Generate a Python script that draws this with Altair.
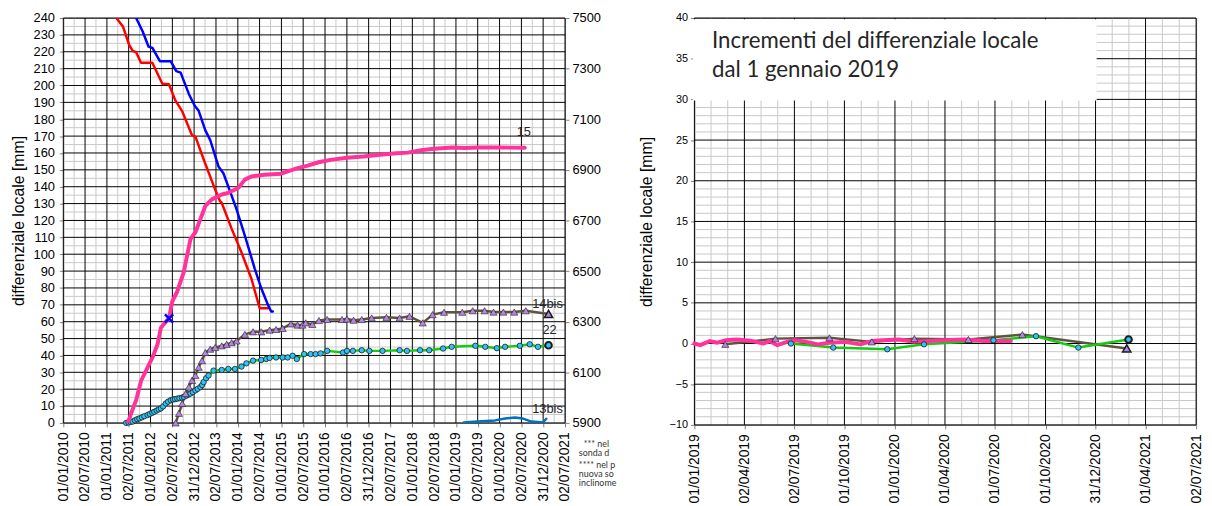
import altair as alt
import pandas as pd

# ---------------- axis labels / ticks ----------------
left_tick_labels = ["01/01/2010", "02/07/2010", "01/01/2011", "02/07/2011", "01/01/2012",
                    "02/07/2012", "31/12/2012", "02/07/2013", "01/01/2014", "02/07/2014",
                    "01/01/2015", "02/07/2015", "01/01/2016", "02/07/2016", "31/12/2016",
                    "02/07/2017", "01/01/2018", "02/07/2018", "01/01/2019", "02/07/2019",
                    "01/01/2020", "02/07/2020", "31/12/2020", "02/07/2021"]
right_tick_labels = ["01/01/2019", "02/04/2019", "02/07/2019", "01/10/2019", "01/01/2020",
                     "01/04/2020", "01/07/2020", "01/10/2020", "31/12/2020", "01/04/2021",
                     "02/07/2021"]
left_y_ticks = list(range(0, 241, 10))
left_y_minor = list(range(5, 240, 10))
right_axis_ticks = list(range(5900, 7501, 200))
inc_y_ticks = list(range(-10, 41, 5))
inc_y_minor = [v for v in range(-10, 41) if v % 5 != 0]

# ---------------- left chart series (x in decimal years) ----------------
red_year = [2011.216, 2011.366, 2011.51, 2011.59, 2011.67, 2011.78, 2012.04, 2012.27, 2012.42,
            2012.57, 2012.72, 2012.95, 2013.03, 2013.22, 2013.48, 2013.59, 2013.63, 2013.86,
            2014.08, 2014.31, 2014.50, 2014.69]
red_val = [240, 235, 224, 220.5, 219.7, 213.5, 213.5, 201, 200.8, 191, 185, 170.5, 169.5, 156,
           138.3, 131.5, 130.5, 115, 101.3, 85.6, 68, 68]

blue_year = [2011.669, 2011.819, 2011.955, 2012.045, 2012.213, 2012.462, 2012.589, 2012.689,
             2012.877, 2013.012, 2013.103, 2013.255, 2013.368, 2013.556, 2013.669, 2013.821,
             2013.971, 2014.161, 2014.387, 2014.537, 2014.689, 2014.763, 2014.802]
blue_val = [240, 232, 223, 222.2, 214.4, 214.4, 208.5, 207.6, 195, 188, 185, 173.4, 167.6, 152,
            148, 137.4, 126.6, 111, 91.5, 79.8, 70, 66.1, 66]

pink_year = [2011.479, 2011.556, 2011.669, 2011.783, 2011.896, 2012.045, 2012.159, 2012.236,
             2012.424, 2012.498, 2012.612, 2012.763, 2012.838, 2012.915, 2013.028, 2013.142,
             2013.255, 2013.404, 2013.631, 2013.783, 2014.009, 2014.161, 2014.310, 2014.614,
             2014.990, 2015.368, 2015.6, 2015.85, 2016.122, 2016.5, 2016.879, 2017.2, 2017.633,
             2017.9, 2018.238, 2018.5, 2018.918, 2019.2, 2019.520, 2020.0, 2020.577]
pink_val = [0, 5.7, 13.5, 25, 31, 38.8, 46.6, 56.4, 62.2, 72, 77.9, 89.6, 99.3, 109, 113, 120.8,
            128.6, 132.5, 135.4, 136.4, 139.3, 144.2, 146.1, 147.1, 147.7, 151, 152.5, 154.5,
            155.9, 157.2, 157.9, 158.8, 159.8, 160.2, 161.8, 162.5, 163.3, 163.0, 163.3, 163.2,
            163.1]

bis14_year = [2012.575, 2012.650, 2012.725, 2012.802, 2012.877, 2012.951, 2013.028, 2013.103,
              2013.178, 2013.255, 2013.368, 2013.481, 2013.631, 2013.744, 2013.857, 2013.971,
              2014.161, 2014.349, 2014.537, 2014.727, 2014.877, 2015.028, 2015.216, 2015.368,
              2015.481, 2015.556, 2015.708, 2015.860, 2016.048, 2016.387, 2016.501, 2016.652,
              2016.840, 2017.067, 2017.406, 2017.708, 2017.934, 2018.238, 2018.464, 2018.727,
              2019.144, 2019.384, 2019.656, 2019.860, 2020.086, 2020.335, 2020.600, 2021.121]
bis14_val = [0, 5.7, 11.5, 17.4, 21.3, 25.2, 28.1, 33, 36.9, 41.7, 43.7, 44.7, 45.7, 46.6, 47.6,
             48.6, 52.5, 54, 54, 55, 55.4, 56, 58.7, 58, 58, 59.3, 58.4, 60.7, 61.3, 61.3, 61.6,
             60.9, 61.3, 62.2, 62.6, 62.2, 63.2, 59.3, 64.2, 65.6, 65.6, 66.5, 66.5, 65.7, 65.7,
             65.7, 66.5, 64.6]

s22_year = [2011.443, 2011.495, 2011.540, 2011.592, 2011.642, 2011.694, 2011.744, 2011.801,
            2011.857, 2011.932, 2011.982, 2012.039, 2012.084, 2012.140, 2012.186, 2012.236,
            2012.288, 2012.349, 2012.401, 2012.462, 2012.514, 2012.560, 2012.612, 2012.661,
            2012.718, 2012.763, 2012.820, 2012.865, 2012.915, 2012.967, 2013.028, 2013.080,
            2013.142, 2013.182, 2013.216, 2013.273, 2013.330, 2013.443, 2013.631, 2013.783,
            2013.934, 2014.084, 2014.197, 2014.349, 2014.537, 2014.650, 2014.727, 2014.877,
            2015.028, 2015.141, 2015.255, 2015.352, 2015.520, 2015.669, 2015.783, 2015.896,
            2016.048, 2016.410, 2016.501, 2016.637, 2016.840, 2017.015, 2017.316, 2017.708,
            2017.876, 2018.177, 2018.387, 2018.704, 2018.901, 2019.445, 2019.671, 2019.937,
            2020.125, 2020.464, 2020.691, 2020.879, 2021.121]
s22_val = [0, 0.3, 0.6, 0.8, 1.5, 2.2, 2.7, 3.3, 4.0, 4.7, 5.3, 6.0, 6.6, 7.3, 8.0, 8.6, 9.8,
           11.5, 12.6, 13.5, 13.9, 14.1, 14.4, 14.7, 15.0, 15.4, 16.2, 16.8, 17.4, 18.3, 19.3,
           20.2, 21.3, 22.5, 24.2, 26.5, 28.1, 31, 31.4, 32, 32, 33.4, 35.3, 36.9, 37.3, 37.9,
           38.5, 38.8, 38.8, 38.8, 39.8, 37.9, 40.8, 40.8, 40.8, 41.2, 42.7, 41.7, 42.7, 42.7,
           43.1, 42.7, 42.7, 43.1, 42.7, 43.1, 43.1, 44.1, 45.1, 45.7, 45.1, 44.3, 45.1, 45.7,
           46.6, 45.1, 46.0]

bis13_year = [2019.180, 2019.400, 2019.597, 2019.898, 2020.125, 2020.351, 2020.539, 2020.729,
              2020.992, 2021.069]
bis13_val = [0.2, 0.7, 1.0, 1.5, 2.6, 3.2, 2.6, 0.8, 0.2, 2.5]

cross_year = [2012.424]
cross_val = [61.9]

label_text = ["15", "14bis", "22", "13bis"]
label_year = [2020.555, 2021.098, 2021.144, 2021.098]
label_val = [172.7, 70.2, 55.0, 8.2]

note_lines = ["*** nel", "sonda d", "**** nel p", "nuova so", "inclinome"]

# ---------------- right chart series ----------------
pink_r_year = [2019.000, 2019.029, 2019.077, 2019.115, 2019.154, 2019.212, 2019.288, 2019.346,
               2019.375, 2019.413, 2019.462, 2019.5, 2019.558, 2019.615, 2019.673, 2019.75,
               2019.827, 2019.884, 2019.942, 2020.019, 2020.096, 2020.173, 2020.25, 2020.346,
               2020.442, 2020.519, 2020.577]
pink_r_val = [0, -0.2, 0.3, 0.1, 0.4, 0.5, 0.3, 0, 0.3, -0.2, 0.2, 0.4, 0.2, -0.1, 0.1, 0.2,
              -0.1, 0.3, 0.4, 0.5, 0.2, 0.3, 0.4, 0.5, 0.3, 0.3, 0.3]
bis14_r_year = [2019.154, 2019.404, 2019.673, 2019.884, 2020.096, 2020.365, 2020.634, 2021.154]
bis14_r_val = [-0.1, 0.6, 0.7, 0.2, 0.6, 0.5, 1.1, -0.6]
s22_r_year = [2019.481, 2019.692, 2019.961, 2020.144, 2020.490, 2020.702, 2020.913, 2021.163]
s22_r_val = [0, -0.5, -0.7, -0.1, 0.4, 0.9, -0.5, 0.5]

title_lines = ["Incrementi del differenziale locale", "dal 1 gennaio 2019"]

# ---------------- helpers ----------------
FONT = "Liberation Sans"
MAJOR = "#000000"
MINOR = "#c8c8c8"
TRI_FILL = "#b685e0"
DOT_FILL = "#2ec4f5"


def to_days(years, base):
    return [(y - base) * 365.25 for y in years]


def tick_days(labels, base):
    d = pd.to_datetime(labels, format="%d/%m/%Y") - pd.Timestamp(base)
    return [float(v) for v in d.days]


def xy(years, vals, base):
    return pd.DataFrame({"x": to_days(years, base), "y": vals})


def midpoints(vals, n):
    out = []
    for a, b in zip(vals[:-1], vals[1:]):
        for k in range(1, n):
            out.append(a + (b - a) * k / n)
    return out


# ================= LEFT CHART =================
LX = alt.Scale(domain=[0, 4200], nice=False, zero=False)
LY = alt.Scale(domain=[0, 240], nice=False, zero=False)
lx_ticks = tick_days(left_tick_labels, "2010-01-01")
lx_minor = midpoints(lx_ticks, 2)

left_x_axis = alt.Axis(values=lx_ticks, title=None, grid=False, domain=False,
                       labelExpr="utcFormat(utc(2010,0,1) + datum.value*86400000, '%d/%m/%Y')",
                       labelAngle=270, labelAlign="right", labelBaseline="middle",
                       labelFontSize=14, labelOverlap=False, tickSize=4, labelPadding=5,
                       tickColor="#808080")
left_y_axis = alt.Axis(values=left_y_ticks, title="differenziale locale [mm]", grid=False,
                       domain=False, labelFontSize=13, titleFontSize=16, tickSize=4,
                       labelPadding=5, titlePadding=7, labelOverlap=False, tickColor="#808080")


def LXe():
    return alt.X("x:Q", scale=LX, axis=left_x_axis)


def LYe():
    return alt.Y("y:Q", scale=LY, axis=left_y_axis)


l_layers = [
    alt.Chart(pd.DataFrame({"x": lx_minor})).mark_rule(color=MINOR, strokeWidth=1).encode(x=LXe()),
    alt.Chart(pd.DataFrame({"y": left_y_minor})).mark_rule(color=MINOR, strokeWidth=1).encode(y=LYe()),
    alt.Chart(pd.DataFrame({"x": lx_ticks})).mark_rule(color=MAJOR, strokeWidth=1).encode(x=LXe()),
    alt.Chart(pd.DataFrame({"y": left_y_ticks})).mark_rule(color=MAJOR, strokeWidth=1).encode(y=LYe()),
]


def lline(years, vals, color, width):
    return alt.Chart(xy(years, vals, 2010.0)).mark_line(
        color=color, strokeWidth=width, strokeJoin="round", strokeCap="round", clip=True
    ).encode(x=LXe(), y=LYe(), order="x:Q")


def lpoints(years, vals, shape, fill, size, sw):
    return alt.Chart(xy(years, vals, 2010.0)).mark_point(
        shape=shape, filled=True, fill=fill, stroke="#1c1c1c", strokeWidth=sw, size=size, opacity=1
    ).encode(x=LXe(), y=LYe())


l_layers += [
    lline(red_year, red_val, "#ff0000", 2.5),
    lline(blue_year, blue_val, "#0000ff", 2.5),
    lline(bis13_year, bis13_val, "#0070c0", 2.5),
    lline(s22_year, s22_val, "#11cc11", 2.5),
    lline(bis14_year, bis14_val, "#5e5541", 2.5),
    lpoints(s22_year[:-1], s22_val[:-1], "circle", DOT_FILL, 30, 0.8),
    lpoints(bis14_year[:-1], bis14_val[:-1], "triangle-up", TRI_FILL, 52, 0.6),
    lpoints(s22_year[-1:], s22_val[-1:], "circle", DOT_FILL, 45, 2),
    lpoints(bis14_year[-1:], bis14_val[-1:], "triangle-up", TRI_FILL, 70, 1.5),
    lline(pink_year, pink_val, "#ff3399", 4),
    alt.Chart(xy(cross_year, cross_val, 2010.0)).mark_point(
        shape="M-1,-1L1,1M-1,1L1,-1", filled=False, color="#0000ff", strokeWidth=2.5,
        size=70, opacity=1).encode(x=LXe(), y=LYe()),
]

lab_df = xy(label_year, label_val, 2010.0)
lab_df["t"] = label_text
l_layers.append(
    alt.Chart(lab_df).mark_text(font=FONT, fontSize=13, color="#262626", align="center",
                                baseline="middle").encode(x=LXe(), y=LYe(), text="t:N"))

note_df = pd.DataFrame({"x": [4357, 4316, 4316, 4316, 4316],
                        "y": [-12.3, -18.1, -25.2, -30.4, -35.7], "t": note_lines})
l_layers.append(
    alt.Chart(note_df).mark_text(font="Lato", fontSize=9, color="#333333", align="left",
                                 baseline="middle").encode(x=LXe(), y=LYe(), text="t:N"))

right_axis_layer = alt.Chart(pd.DataFrame({"r": [5900, 7500]})).mark_point(opacity=0).encode(
    y=alt.Y("r:Q", scale=alt.Scale(domain=[5900, 7500], nice=False, zero=False),
            axis=alt.Axis(orient="right", values=right_axis_ticks, title=None, grid=False,
                          domain=False, labelFontSize=13, tickSize=4, labelPadding=3, format="d",
                          tickColor="#808080", labelOverlap=False)))

left = alt.layer(alt.layer(*l_layers), right_axis_layer).resolve_scale(
    y="independent").properties(width=508, height=410)

# ================= RIGHT CHART =================
RX = alt.Scale(domain=[0, 913], nice=False, zero=False)
RY = alt.Scale(domain=[-10, 40], nice=False, zero=False)
rx_ticks = tick_days(right_tick_labels, "2019-01-01")
rx_minor = midpoints(rx_ticks, 3)

right_x_axis = alt.Axis(values=rx_ticks, title=None, grid=False, domain=False,
                        labelExpr="utcFormat(utc(2019,0,1) + datum.value*86400000, '%d/%m/%Y')",
                        labelAngle=270, labelAlign="right", labelBaseline="middle",
                        labelFontSize=14, labelOverlap=False, tickSize=4, labelPadding=5,
                        tickColor="#808080")
right_y_axis = alt.Axis(values=inc_y_ticks, title="differenziale locale [mm]", grid=False,
                        domain=False, labelFontSize=11, titleFontSize=16, tickSize=4,
                        labelPadding=3, titlePadding=15, labelOverlap=False, tickColor="#808080")


def RXe():
    return alt.X("x:Q", scale=RX, axis=right_x_axis)


def RYe():
    return alt.Y("y:Q", scale=RY, axis=right_y_axis)


r_layers = [
    alt.Chart(pd.DataFrame({"x": rx_minor})).mark_rule(color=MINOR, strokeWidth=1).encode(x=RXe()),
    alt.Chart(pd.DataFrame({"y": inc_y_minor})).mark_rule(color=MINOR, strokeWidth=1).encode(y=RYe()),
    alt.Chart(pd.DataFrame({"x": rx_ticks})).mark_rule(color=MAJOR, strokeWidth=1).encode(x=RXe()),
    alt.Chart(pd.DataFrame({"y": inc_y_ticks})).mark_rule(color=MAJOR, strokeWidth=1).encode(y=RYe()),
]

box_df = pd.DataFrame({"x": [-3.0], "x2": [732.0], "y": [29.85], "y2": [39.85]})
r_layers.append(alt.Chart(box_df).mark_rect(color="white", opacity=1).encode(
    x=RXe(), x2="x2:Q", y=RYe(), y2="y2:Q"))


def rline(years, vals, color, width):
    return alt.Chart(xy(years, vals, 2019.0)).mark_line(
        color=color, strokeWidth=width, strokeJoin="round", strokeCap="round"
    ).encode(x=RXe(), y=RYe(), order="x:Q")


def rpoints(years, vals, shape, fill, size, sw):
    return alt.Chart(xy(years, vals, 2019.0)).mark_point(
        shape=shape, filled=True, fill=fill, stroke="#1c1c1c", strokeWidth=sw, size=size, opacity=1
    ).encode(x=RXe(), y=RYe())


r_layers += [
    rline(bis14_r_year, bis14_r_val, "#5e5541", 2.5),
    rline(s22_r_year, s22_r_val, "#11cc11", 2.5),
    rline(pink_r_year, pink_r_val, "#ff3399", 4),
    rpoints(bis14_r_year[:-1], bis14_r_val[:-1], "triangle-up", TRI_FILL, 52, 0.6),
    rpoints(s22_r_year[:-1], s22_r_val[:-1], "circle", DOT_FILL, 30, 0.8),
    rpoints(bis14_r_year[-1:], bis14_r_val[-1:], "triangle-up", TRI_FILL, 70, 1.5),
    rpoints(s22_r_year[-1:], s22_r_val[-1:], "circle", DOT_FILL, 45, 2),
]

title_df = pd.DataFrame({"x": [32.0, 32.0], "y": [37.2, 33.6], "t": title_lines})
r_layers.append(alt.Chart(title_df).mark_text(
    font="Lato", fontSize=22.5, color="#262626", align="left", baseline="middle"
).encode(x=RXe(), y=RYe(), text="t:N"))

right = alt.layer(*r_layers).properties(width=508, height=412)

chart = alt.hconcat(left, right, spacing=20).properties(
    padding={"left": 1, "top": 0, "right": 0, "bottom": 0}, background="white"
).configure_view(stroke="#808080", strokeWidth=1).configure_axis(
    labelFont=FONT, titleFont=FONT, labelColor="black", titleColor="black",
    titleFontWeight="normal")

chart.save("out.html", embed_options={"renderer": "svg", "actions": False})
